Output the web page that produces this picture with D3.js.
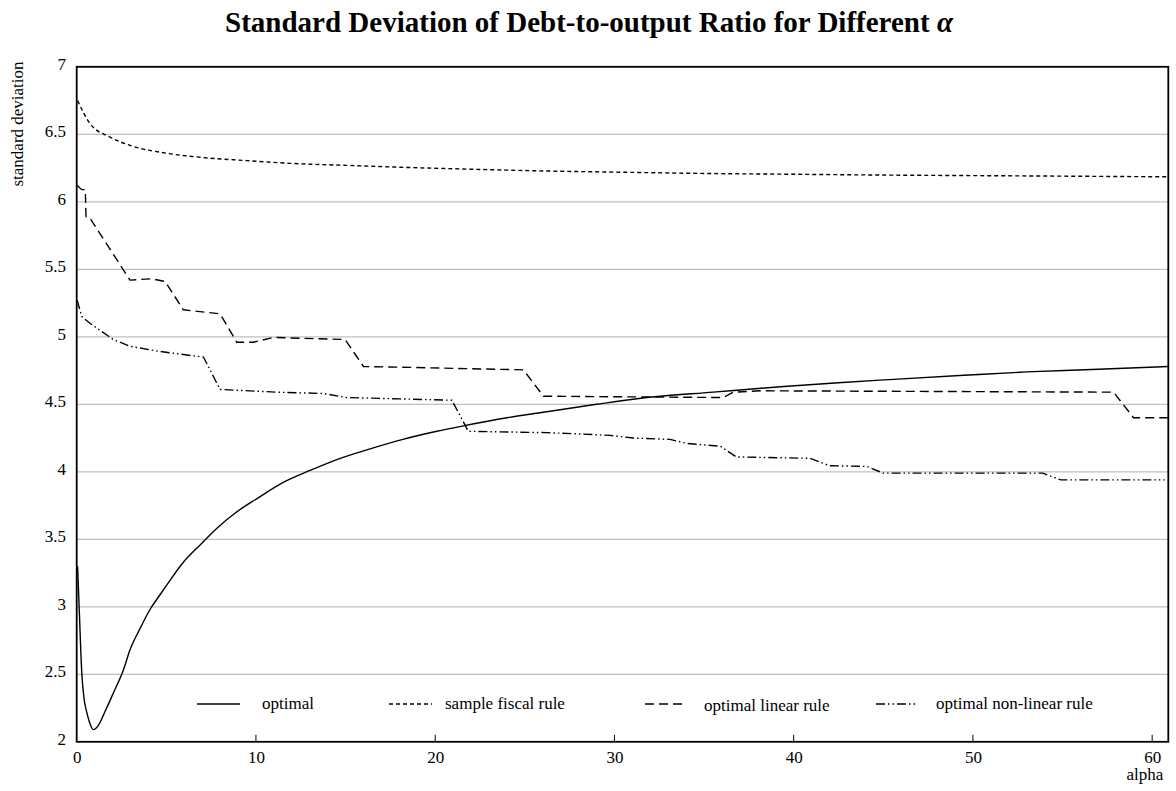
<!DOCTYPE html>
<html>
<head>
<meta charset="utf-8">
<script src="https://cdn.jsdelivr.net/npm/d3@7"></script>
<style>
  body { margin: 0; background: #fff; }
  text { font-family: "Liberation Serif", "DejaVu Serif", serif; fill: #000; }
</style>
</head>
<body>
<svg width="1176" height="791"></svg>
<script>
// Chart data (alpha, standard deviation)
let optimalAlpha = [0.05, 0.15, 0.28, 0.4, 0.56, 0.7, 0.93, 1.2, 1.6, 2.04, 2.6, 2.97, 3.5, 4.09, 4.6, 5.02, 5.95, 6.9, 7.81, 8.9, 10.04, 11.5, 13.02, 14.7, 16.37, 18.2, 20.09, 21.57, 24, 26.23, 29, 31.8, 35.5, 39.25, 42.5, 45.57, 49.5, 53.0, 57, 60.9];
let optimalValues = [3.30, 2.95, 2.52, 2.33, 2.22, 2.15, 2.09, 2.12, 2.23, 2.36, 2.53, 2.68, 2.83, 2.98, 3.08, 3.16, 3.33, 3.46, 3.58, 3.70, 3.80, 3.92, 4.01, 4.10, 4.17, 4.24, 4.30, 4.34, 4.40, 4.445, 4.50, 4.55, 4.59, 4.63, 4.66, 4.685, 4.715, 4.74, 4.76, 4.78];

let fiscalAlpha = [0.05, 0.74, 1.85, 3.16, 5.0, 6.88, 9.5, 11.9, 15, 18.04, 21, 25.5, 30, 35, 40, 45, 50, 55, 60.9];
let fiscalValues = [6.75, 6.58, 6.48, 6.41, 6.36, 6.33, 6.305, 6.285, 6.27, 6.256, 6.245, 6.23, 6.22, 6.21, 6.204, 6.198, 6.194, 6.19, 6.185];

let linearAlpha = [0.03, 0.28, 0.48, 0.52, 0.74, 2.97, 4.18, 4.93, 5.95, 8.0, 8.93, 9.86, 10.97, 14.97, 16.0, 18.04, 24.92, 26.04, 36.08, 36.64, 38.13, 57.85, 58.96, 60.9];
let linearValues = [6.12, 6.09, 6.09, 5.89, 5.88, 5.42, 5.43, 5.41, 5.20, 5.17, 4.96, 4.96, 4.995, 4.98, 4.78, 4.775, 4.755, 4.56, 4.55, 4.59, 4.60, 4.59, 4.40, 4.40];

let nonlinearAlpha = [0.03, 0.28, 0.74, 2.04, 2.97, 4.46, 6.14, 7.07, 8.0, 11.16, 13.76, 15.07, 18.04, 20.93, 21.85, 26.2, 28.1, 29.76, 31.06, 33.1, 34.04, 35.9, 36.8, 40.9, 42.0, 44.08, 45.0, 53.9, 54.9, 60.7];
let nonlinearValues = [5.27, 5.15, 5.10, 4.98, 4.93, 4.895, 4.865, 4.85, 4.61, 4.59, 4.58, 4.55, 4.54, 4.53, 4.30, 4.29, 4.28, 4.27, 4.25, 4.24, 4.21, 4.19, 4.11, 4.10, 4.045, 4.04, 3.99, 3.99, 3.94, 3.94];

let seriesNames = ['optimal', 'sample fiscal rule', 'optimal linear rule', 'optimal non-linear rule'];
let yTicks = [2, 2.5, 3, 3.5, 4, 4.5, 5, 5.5, 6, 6.5, 7];
let xTicks = [0, 10, 20, 30, 40, 50, 60];

// Layout
let plotLeft = 76.7, plotRight = 1168.3, plotTop = 66.8, plotBottom = 741.8;
let svg = d3.select('svg');

let xScale = d3.scaleLinear().domain([0, 60.9]).range([plotLeft, plotRight]);
let yScale = d3.scaleLinear().domain([2, 7]).range([plotBottom, plotTop]);

// Title
let title = svg.append('text')
    .attr('x', 589)
    .attr('y', 32)
    .attr('text-anchor', 'middle')
    .style('font-size', '29px')
    .style('font-weight', 'bold');
title.append('tspan').text('Standard Deviation of Debt-to-output Ratio for Different ');
title.append('tspan').style('font-style', 'italic').text('α');

// Gridlines
svg.append('g')
    .selectAll('line')
    .data(yTicks.filter(t => t > 2 && t < 7))
    .enter()
    .append('line')
    .attr('x1', plotLeft)
    .attr('x2', plotRight)
    .attr('y1', d => yScale(d))
    .attr('y2', d => yScale(d))
    .attr('stroke', '#c0c0c0')
    .attr('stroke-width', 1.3);

// Y tick labels
svg.append('g')
    .selectAll('text')
    .data(yTicks)
    .enter()
    .append('text')
    .attr('x', 66)
    .attr('y', d => yScale(d) + 3)
    .attr('text-anchor', 'end')
    .style('font-size', '17px')
    .text(d => d);

// X axis with inside ticks
let xAxis = d3.axisBottom(xScale)
    .tickValues(xTicks)
    .tickSize(0)
    .tickPadding(9)
    .tickFormat(d3.format('d'));
let xg = svg.append('g')
    .attr('transform', `translate(0, ${plotBottom})`)
    .call(xAxis);
xg.select('.domain').remove();
xg.selectAll('text')
    .style('font-family', '"Liberation Serif", serif')
    .style('font-size', '17px')
    .attr('fill', '#000');

svg.append('g')
    .selectAll('line')
    .data(xTicks.filter(t => t > 0))
    .enter()
    .append('line')
    .attr('x1', d => xScale(d))
    .attr('x2', d => xScale(d))
    .attr('y1', plotBottom)
    .attr('y2', plotBottom - 7)
    .attr('stroke', '#000')
    .attr('stroke-width', 1);

// Axis titles
svg.append('text')
    .attr('x', 1145)
    .attr('y', 780)
    .attr('text-anchor', 'middle')
    .style('font-size', '17px')
    .text('alpha');

svg.append('text')
    .attr('transform', 'translate(23, 124) rotate(-90)')
    .attr('text-anchor', 'middle')
    .style('font-size', '17px')
    .text('standard deviation');

// Series lines
let zip = (xs, ys) => xs.map((x, i) => [x, ys[i]]);
let series = [
    { data: zip(optimalAlpha, optimalValues), dash: null, curve: d3.curveMonotoneX },
    { data: zip(fiscalAlpha, fiscalValues), dash: '4,3', curve: d3.curveMonotoneX },
    { data: zip(linearAlpha, linearValues), dash: '9,5', curve: d3.curveLinear },
    { data: zip(nonlinearAlpha, nonlinearValues), dash: '9,3,1.5,3,1.5,3', curve: d3.curveLinear }
];

svg.append('clipPath').attr('id', 'plot-clip')
    .append('rect')
    .attr('x', plotLeft).attr('y', plotTop)
    .attr('width', plotRight - plotLeft).attr('height', plotBottom - plotTop);

series.forEach(s => {
    let line = d3.line()
        .x(d => xScale(d[0]))
        .y(d => yScale(d[1]))
        .curve(s.curve);
    svg.append('path')
        .datum(s.data)
        .attr('d', line)
        .attr('fill', 'none')
        .attr('stroke', '#000')
        .attr('stroke-width', 1.4)
        .attr('clip-path', 'url(#plot-clip)')
        .attr('stroke-dasharray', s.dash);
});

// Legend
let legendItems = [
    { x1: 197, x2: 240, tx: 262, ty: 709 },
    { x1: 389, x2: 432, tx: 445, ty: 709 },
    { x1: 645, x2: 686, tx: 704, ty: 711 },
    { x1: 876, x2: 918, tx: 936, ty: 709 }
];
legendItems.forEach((item, i) => {
    svg.append('line')
        .attr('x1', item.x1).attr('x2', item.x2)
        .attr('y1', 704).attr('y2', 704)
        .attr('stroke', '#000')
        .attr('stroke-width', 1.4)
        .attr('stroke-dasharray', series[i].dash);
    svg.append('text')
        .attr('x', item.tx)
        .attr('y', item.ty)
        .style('font-size', '17px')
        .text(seriesNames[i]);
});

// Frame
svg.append('rect')
    .attr('x', plotLeft).attr('y', plotTop)
    .attr('width', plotRight - plotLeft).attr('height', plotBottom - plotTop)
    .attr('fill', 'none')
    .attr('stroke', '#000')
    .attr('stroke-width', 1.8);
</script>
</body>
</html>
